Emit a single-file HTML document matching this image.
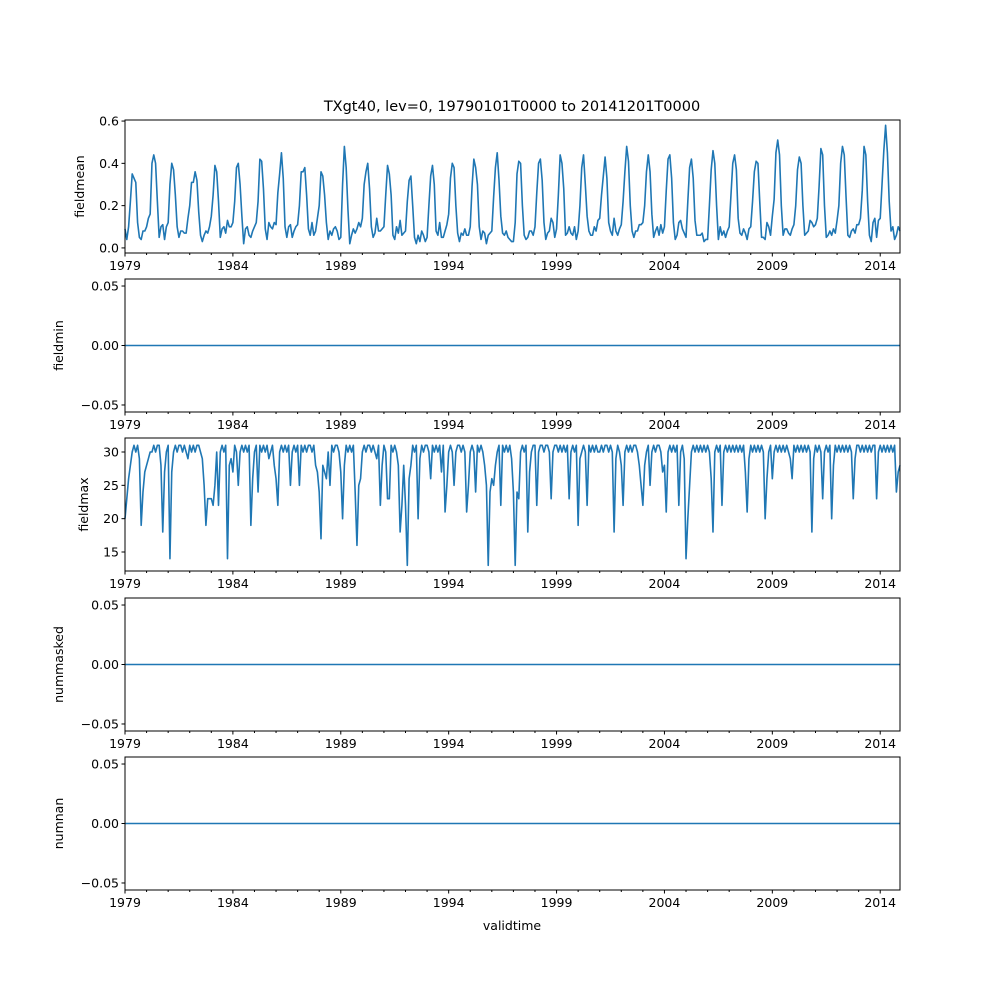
<!DOCTYPE html>
<html><head><meta charset="utf-8"><style>
body{margin:0;background:#fff}
svg{display:block;font-family:"DejaVu Sans","Liberation Sans",sans-serif}
</style></head><body>
<svg id="chart" width="1000" height="1000" viewBox="0 0 1000 1000" xmlns="http://www.w3.org/2000/svg">
<rect width="1000" height="1000" fill="#fff"/>
<text x="512" y="111" font-size="14.5" text-anchor="middle">TXgt40, lev=0, 19790101T0000 to 20141201T0000</text>
<text x="512" y="930" font-size="12.5" text-anchor="middle">validtime</text>
</svg>
<script>
const startYear = 1979;
const fieldmeanPeaks = [.35,.44,.40,.36,.39,.40,.42,.45,.38,.37,.48,.40,.39,.35,.39,.40,.42,.45,.41,.42,.44,.44,.43,.48,.44,.44,.42,.46,.44,.41,.51,.43,.47,.49,.48,.58];
const fieldmean = [
.09,.04,.10,.22,.35,.33,.31,.12,.05,.04,.08,.08,
.10,.14,.16,.40,.44,.40,.22,.05,.10,.11,.04,.10,
.12,.30,.40,.37,.25,.10,.05,.08,.08,.07,.07,.14,
.20,.31,.31,.36,.32,.17,.06,.03,.06,.08,.07,.10,
.15,.25,.39,.36,.22,.05,.09,.10,.07,.13,.10,.10,
.12,.22,.38,.40,.30,.15,.02,.09,.10,.06,.05,.08,
.10,.12,.22,.42,.41,.28,.09,.04,.12,.10,.09,.12,
.11,.26,.35,.45,.33,.10,.05,.10,.11,.05,.08,.10,
.11,.20,.36,.36,.38,.25,.09,.06,.12,.06,.08,.14,
.20,.36,.34,.25,.12,.04,.08,.06,.09,.10,.08,.04,
.05,.30,.48,.38,.18,.02,.06,.09,.07,.09,.12,.10,
.14,.30,.36,.40,.28,.10,.05,.07,.14,.08,.08,.09,
.10,.25,.39,.35,.25,.06,.04,.10,.07,.13,.06,.07,
.08,.22,.32,.34,.20,.05,.02,.06,.03,.08,.06,.03,
.05,.20,.34,.39,.30,.08,.06,.12,.05,.05,.08,.11,
.16,.33,.40,.38,.20,.07,.03,.07,.06,.09,.06,.06,
.10,.29,.42,.38,.30,.10,.04,.08,.07,.02,.06,.07,
.08,.24,.38,.45,.32,.15,.07,.06,.08,.05,.04,.03,
.03,.12,.35,.41,.40,.20,.06,.04,.05,.08,.08,.06,
.10,.26,.40,.42,.32,.12,.04,.07,.08,.14,.12,.05,
.09,.25,.44,.40,.28,.06,.07,.10,.07,.06,.10,.04,
.08,.20,.38,.44,.30,.15,.08,.06,.06,.10,.08,.13,
.14,.25,.34,.43,.33,.12,.08,.06,.14,.08,.06,.09,
.11,.22,.36,.48,.41,.20,.08,.05,.08,.08,.11,.11,
.12,.20,.36,.44,.36,.16,.05,.08,.10,.06,.11,.07,
.10,.27,.42,.44,.33,.12,.04,.06,.12,.13,.09,.07,
.05,.22,.38,.42,.33,.13,.06,.06,.06,.07,.03,.04,
.04,.20,.37,.46,.40,.20,.04,.10,.06,.08,.05,.08,
.10,.25,.40,.44,.37,.14,.07,.06,.09,.07,.04,.09,
.10,.22,.36,.41,.40,.22,.05,.05,.04,.12,.10,.06,
.15,.23,.45,.51,.44,.20,.06,.09,.09,.07,.06,.09,
.11,.20,.37,.43,.40,.20,.06,.07,.08,.13,.12,.10,
.11,.14,.29,.47,.44,.20,.05,.06,.08,.06,.09,.07,
.13,.20,.40,.48,.44,.24,.06,.05,.08,.09,.07,.11,
.11,.14,.27,.48,.44,.22,.06,.03,.12,.14,.05,.13,
.14,.30,.46,.58,.45,.22,.08,.10,.04,.06,.10,.08];
const fieldmax = [
20,23,26,28,30,31,30,31,29,19,24,27,
28,29,30,30,31,30,31,31,28,18,27,30,
31,14,27,30,31,30,31,31,30,31,30,29,
31,30,31,30,31,31,30,29,25,19,23,23,
23,22,25,30,22,30,31,30,31,14,28,29,
27,31,30,25,30,31,30,31,30,31,19,26,
30,31,24,31,30,31,30,31,29,30,31,28,
26,22,30,31,30,31,30,31,25,30,31,30,
31,25,31,30,31,30,31,31,30,31,28,27,
24,17,28,27,26,30,25,31,30,31,31,30,
27,20,28,31,30,31,30,31,24,16,25,26,
30,31,30,31,31,30,31,30,29,31,22,28,
31,30,23,23,31,30,31,30,28,18,22,28,
22,13,26,28,31,30,31,20,29,31,30,31,
31,30,26,31,30,31,30,31,27,31,21,25,
30,31,30,25,30,31,31,30,31,30,21,25,
30,31,30,24,31,30,31,30,28,25,13,24,
26,25,28,30,31,22,31,30,31,30,31,29,
24,13,24,23,30,31,30,31,18,27,30,31,
31,22,30,31,31,30,31,31,30,23,30,31,
31,30,31,30,31,30,31,23,30,31,30,31,
19,29,30,31,30,22,31,30,31,30,31,30,
30,31,30,31,31,30,31,30,18,29,31,30,
28,22,30,31,30,31,30,31,31,30,28,25,
22,28,30,31,25,30,31,30,31,31,30,27,
28,21,30,31,30,31,30,31,22,30,31,29,
14,20,25,30,31,30,31,30,31,30,31,30,
31,30,26,18,30,31,30,31,22,30,31,30,
31,30,31,30,31,30,31,30,31,27,21,29,
31,30,31,30,31,30,31,30,20,26,30,31,
26,30,31,30,31,30,31,30,31,30,29,26,
31,30,31,30,31,30,31,30,31,30,18,29,
31,30,31,30,23,30,31,30,31,20,28,31,
30,31,30,31,30,31,30,31,30,23,29,31,
31,30,31,30,31,30,31,30,31,31,23,30,
31,30,31,30,31,30,31,30,31,24,27,28];
const xTickLabels = ["1979","1984","1989","1994","1999","2004","2009","2014"];
const panelNames = ["fieldmean","fieldmin","fieldmax","nummasked","numnan"];
const meanTicks = [0.0,0.2,0.4,0.6];
const maxTicks = [15,20,25,30];
const zeroTicks = [-0.05,0.00,0.05];

const svg = document.getElementById('chart');
const NS = 'http://www.w3.org/2000/svg';
const L = 125, R = 900;
const tops = [120,279,438,598,757], H = 133;
const xMin = 1979, xMax = 2014 + 11/12;
function xs(t){ return L + (t - xMin) / (xMax - xMin) * (R - L); }
function mk(tag, attrs){ const e = document.createElementNS(NS, tag); for (const k in attrs) e.setAttribute(k, attrs[k]); svg.appendChild(e); return e; }

const nMonths = fieldmean.length;
const zeros = new Array(nMonths).fill(0);
const panels = [
 {data: fieldmean, lo: -0.024, hi: 0.605, ticks: meanTicks, fmt: v => v.toFixed(1)},
 {data: zeros, lo: -0.0559, hi: 0.0559, ticks: zeroTicks, fmt: v => (v < 0 ? '\u22120.05' : v.toFixed(2))},
 {data: fieldmax, lo: 12.15, hi: 32.1, ticks: maxTicks, fmt: v => String(v)},
 {data: zeros, lo: -0.0559, hi: 0.0559, ticks: zeroTicks, fmt: v => (v < 0 ? '\u22120.05' : v.toFixed(2))},
 {data: zeros, lo: -0.0559, hi: 0.0559, ticks: zeroTicks, fmt: v => (v < 0 ? '\u22120.05' : v.toFixed(2))}
];
panels.forEach((p, i) => {
  const top = tops[i], bot = top + H;
  const ys = v => bot - (v - p.lo) / (p.hi - p.lo) * H;
  let d = '';
  p.data.forEach((v, k) => { const t = startYear + k / 12; d += (k ? 'L' : 'M') + xs(t).toFixed(2) + ',' + ys(v).toFixed(2); });
  const line = mk('path', {d: d, fill: 'none', stroke: '#1f77b4', 'stroke-width': 1.6, 'stroke-linejoin': 'round'});
  
  
  const frame = mk('rect', {x: L, y: top, width: R - L, height: H, fill: 'none', stroke: '#000', 'stroke-width': 1});
  
  
  p.ticks.forEach(v => {
    const y = ys(v);
    mk('line', {x1: L - 3.5, x2: L, y1: y, y2: y, stroke: '#000'});
    const tl = mk('text', {x: L - 6, y: y + 4.5, 'font-size': 12.5, 'text-anchor': 'end'});
    tl.textContent = p.fmt(v);
    
    
  });
  for (let yr = 1979; yr <= 2014; yr++) {
    const x = xs(yr);
    const major = (yr - 1979) % 5 === 0;
    mk('line', {x1: x, x2: x, y1: bot, y2: bot + (major ? 3.5 : 2), stroke: '#000'});
  }
  xTickLabels.forEach(s => {
    const xl = mk('text', {x: xs(+s), y: bot + 17, 'font-size': 12.5, 'text-anchor': 'middle'});
    xl.textContent = s;
    
    
  });
  const yl = mk('text', {x: 0, y: 0, 'font-size': 12.5, 'text-anchor': 'middle', transform: 'translate(' + (i === 0 ? 84 : (i === 2 ? 88 : 63)) + ',' + (top + H / 2) + ') rotate(-90)'});
  yl.textContent = panelNames[i];
  
  
});
</script>
</body></html>
